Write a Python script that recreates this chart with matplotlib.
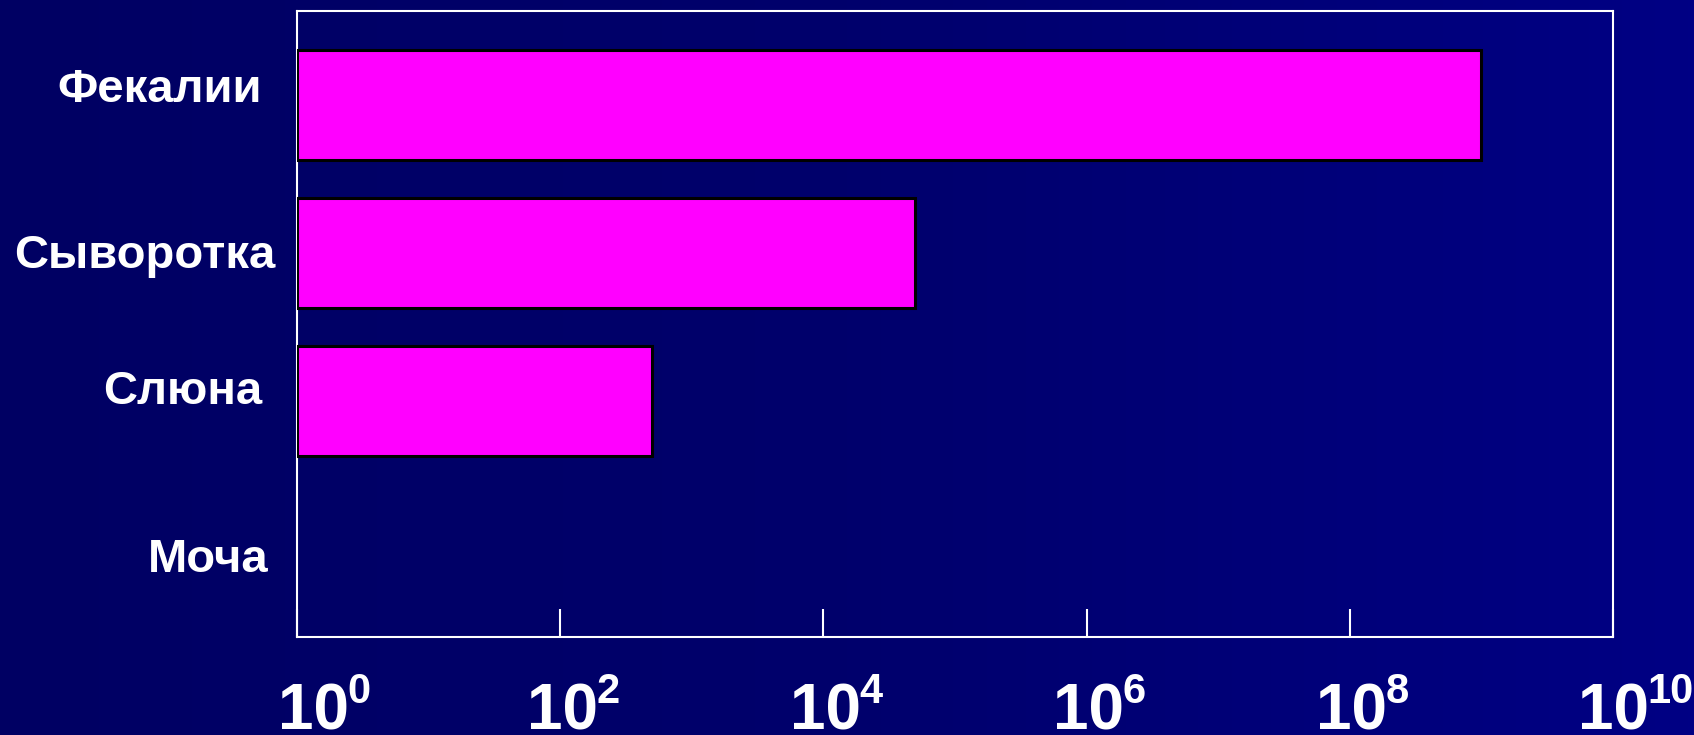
import matplotlib.pyplot as plt, numpy as np
from matplotlib.colors import LinearSegmentedColormap

# data
categories = ['Фекалии', 'Сыворотка', 'Слюна', 'Моча']
values = [1e9, 5e4, 500, np.nan]  # Моча: no bar
tick_exps = [0, 2, 4, 6, 8, 10]

# label nudges in pixels (dx from axis left, dy of baseline from bar centre)
label_dx = [-35, -22, -35, -29]
label_dy = [3, -15, -3, -23]
tick_dx = [16, 2, 2, 2, 2, 0]

fig = plt.figure(figsize=(16.94, 7.35), dpi=100)

# background gradient
bg = fig.add_axes([0, 0, 1, 1], zorder=-10)
cmap = LinearSegmentedColormap.from_list('bg', ['#000063', '#00006c', '#000084'])
grad = np.linspace(0, 1, 256).reshape(1, -1)
bg.imshow(grad, aspect='auto', cmap=cmap, extent=[0, 1, 0, 1])
bg.axis('off')

ax = fig.add_axes([297/1694, 1-637/735, (1613-297)/1694, (637-11)/735])
ax.set_facecolor('none')
ax.set_xscale('log')
ax.set_xlim(1, 1e10)

n = len(categories)
ypos = np.arange(n)[::-1]
vals = np.array(values, dtype=float)
mask = ~np.isnan(vals)
ax.barh(ypos[mask], vals[mask] - 1, left=1, height=0.74,
        color='#ff00ff', edgecolor='black', linewidth=2.2, zorder=3)
ax.set_ylim(-0.595, 3.635)

for s in ax.spines.values():
    s.set_color('white')
    s.set_linewidth(1.5)

ax.set_yticks([])
ax.set_xticks([10.0**e for e in tick_exps])
ax.xaxis.set_minor_locator(plt.NullLocator())
ax.tick_params(axis='x', direction='in', length=20, width=1.5, color='white',
               labelbottom=False)

font = 'Liberation Sans'
for i, cat in enumerate(categories):
    ax.annotate(cat, xy=(0, ypos[i]), xycoords=('axes fraction', 'data'),
                xytext=(label_dx[i], label_dy[i]), textcoords='offset pixels',
                ha='right', va='baseline', color='white', fontsize=34,
                fontweight='bold', family=font)

for j, e in enumerate(tick_exps):
    ax.annotate('10', xy=(10.0**e, 0), xycoords=('data', 'axes fraction'),
                xytext=(tick_dx[j], -93), textcoords='offset pixels',
                ha='center', va='baseline', color='white', fontsize=46,
                fontweight='bold', family=font, annotation_clip=False)
    ax.annotate(str(e), xy=(10.0**e, 0), xycoords=('data', 'axes fraction'),
                xytext=(tick_dx[j] + 34, -66), textcoords='offset pixels',
                ha='left', va='baseline', color='white', fontsize=30,
                fontweight='bold', family=font, annotation_clip=False)

fig.savefig('out.png', dpi=100)
